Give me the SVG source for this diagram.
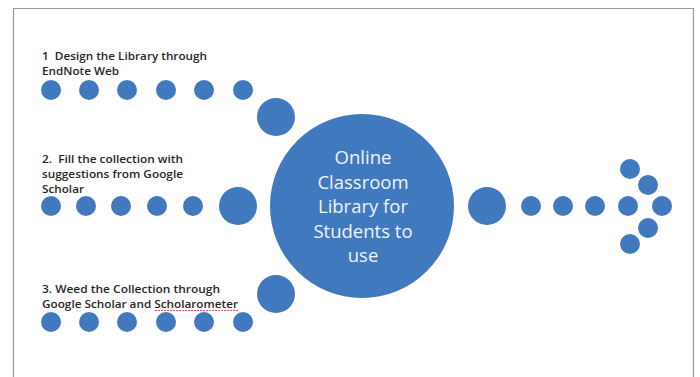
<svg xmlns="http://www.w3.org/2000/svg" width="700" height="377" viewBox="0 0 700 377">
  <style>
    .dot { fill: #4179bf; }
    .lbl { font-family: "Open Sans", "Liberation Sans", sans-serif; font-size: 11px; fill: #262626; font-weight: 600; white-space: pre; }
    .hub { font-family: "Open Sans", "Liberation Sans", sans-serif; font-size: 18.5px; fill: #eef3fa; text-anchor: middle; }
    .frame { fill: none; stroke: #9a9a9a; stroke-width: 1.2; }
  </style>
  <rect width="700" height="377" fill="#ffffff"/>
  <!-- page frame (open at the bottom) -->
  <path class="frame" d="M13.5,377 V8.5 H693.5 V377"/>

  <!-- dotted connectors -->
  <g id="connectors">
    <g id="row1">
      <circle class="dot" cx="51" cy="90" r="10"/>
      <circle class="dot" cx="89" cy="90" r="10"/>
      <circle class="dot" cx="127" cy="90" r="10"/>
      <circle class="dot" cx="166" cy="90" r="10"/>
      <circle class="dot" cx="204" cy="90" r="10"/>
      <circle class="dot" cx="243" cy="90" r="10"/>
      <circle class="dot" cx="276" cy="117" r="19"/>
    </g>
    <g id="row2">
      <circle class="dot" cx="51" cy="206" r="10"/>
      <circle class="dot" cx="86" cy="206" r="10"/>
      <circle class="dot" cx="121" cy="206" r="10"/>
      <circle class="dot" cx="157" cy="206" r="10"/>
      <circle class="dot" cx="193" cy="206" r="10"/>
      <circle class="dot" cx="238" cy="206" r="19"/>
    </g>
    <g id="row3">
      <circle class="dot" cx="51" cy="322" r="10"/>
      <circle class="dot" cx="89" cy="322" r="10"/>
      <circle class="dot" cx="127" cy="322" r="10"/>
      <circle class="dot" cx="166" cy="322" r="10"/>
      <circle class="dot" cx="204" cy="322" r="10"/>
      <circle class="dot" cx="243" cy="322" r="10"/>
      <circle class="dot" cx="276" cy="294" r="19"/>
    </g>
    <g id="outflow">
      <circle class="dot" cx="487" cy="206" r="19"/>
      <circle class="dot" cx="531" cy="206" r="10"/>
      <circle class="dot" cx="563" cy="206" r="10"/>
      <circle class="dot" cx="595" cy="206" r="10"/>
      <circle class="dot" cx="628" cy="206" r="10"/>
      <circle class="dot" cx="630" cy="169" r="10"/>
      <circle class="dot" cx="648" cy="185" r="10"/>
      <circle class="dot" cx="662" cy="206" r="10"/>
      <circle class="dot" cx="648" cy="228" r="10"/>
      <circle class="dot" cx="630" cy="244" r="10"/>
    </g>
  </g>

  <!-- central hub -->
  <g id="hub">
    <circle class="dot" cx="362" cy="206" r="92"/>
    <text class="hub" x="363" y="164">Online</text>
    <text class="hub" x="363" y="189">Classroom</text>
    <text class="hub" x="363" y="213">Library for</text>
    <text class="hub" x="363" y="238">Students to</text>
    <text class="hub" x="363" y="262">use</text>
  </g>

  <!-- step labels -->
  <g id="step1">
    <text class="lbl" x="42" y="60" textLength="165" lengthAdjust="spacingAndGlyphs" xml:space="preserve">1  Design the Library through</text>
    <text class="lbl" x="42" y="75" textLength="77" lengthAdjust="spacingAndGlyphs">EndNote Web</text>
  </g>
  <g id="step2">
    <text class="lbl" x="42" y="163" textLength="141" lengthAdjust="spacingAndGlyphs" xml:space="preserve">2.  Fill the collection with</text>
    <text class="lbl" x="42" y="178" textLength="141" lengthAdjust="spacingAndGlyphs">suggestions from Google</text>
    <text class="lbl" x="42" y="193" textLength="42" lengthAdjust="spacingAndGlyphs">Scholar</text>
  </g>
  <g id="step3">
    <text class="lbl" x="42" y="293" textLength="178" lengthAdjust="spacingAndGlyphs">3. Weed the Collection through</text>
    <text class="lbl" x="42" y="308" textLength="196" lengthAdjust="spacingAndGlyphs">Google Scholar and Scholarometer</text>
    <path d="M155,310.5 H238" stroke="#e0575b" stroke-width="1" stroke-dasharray="2,1"/>
  </g>
</svg>
